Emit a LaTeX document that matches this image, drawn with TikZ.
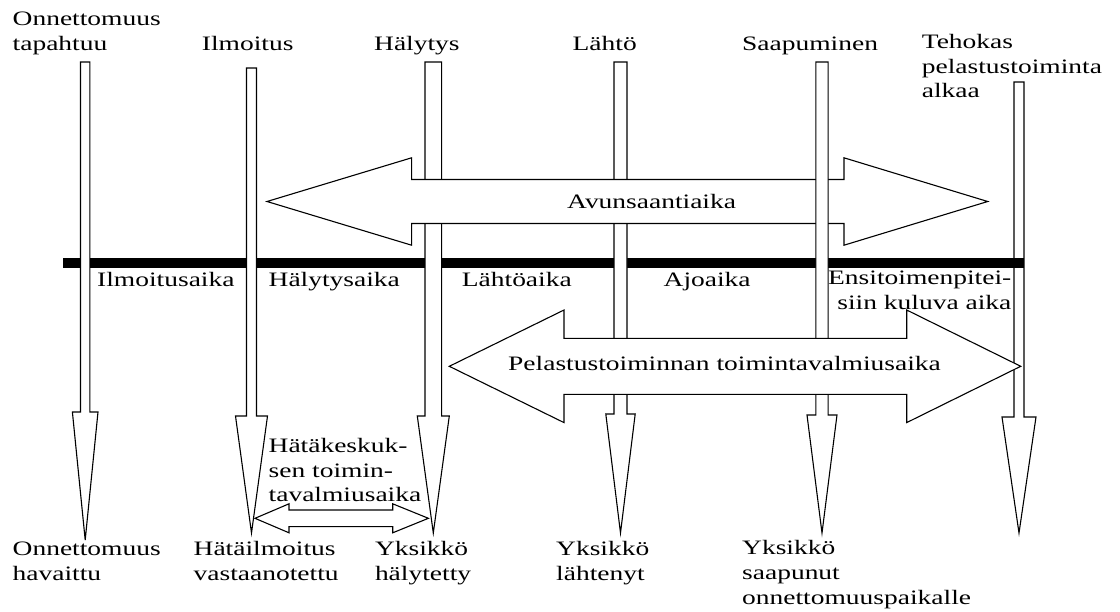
\documentclass[tikz,border=0pt]{standalone}
\usepackage{fontspec}
\setmainfont{Liberation Serif}[FakeStretch=1.34]
\usepackage{tikz}

\newcommand{\timearrow}[6]{\filldraw[blockarrow] (#1-#2,#3) -- (#1+#2,#3) -- (#1+#2,#4) -- (#1+#5,#4) -- (#1,#6) -- (#1-#5,#4) -- (#1-#2,#4) -- cycle;}
\newcommand{\spanarrow}[7]{\filldraw[blockarrow] (#1,#5) -- (#2,#5-#7) -- (#2,#5-#6) -- (#3,#5-#6) -- (#3,#5-#7) -- (#4,#5) -- (#3,#5+#7) -- (#3,#5+#6) -- (#2,#5+#6) -- (#2,#5+#7) -- cycle;}

\begin{document}
\begin{tikzpicture}[x=1pt,y=-1pt,
  blockarrow/.style={draw=black,fill=white,line width=1.1pt,line join=miter},
  lbl/.style={inner sep=0pt,anchor=base west,align=left,font=\fontsize{20.5}{24.6}\selectfont}]
\useasboundingbox[fill=white] (0,0) rectangle (1120,611);
\timearrow{1019}{5}{82}{417}{17}{533}
\fill (62.5,258.3) rectangle (1024,268.3);
\timearrow{85.2}{4.7}{62}{412}{12.8}{540}
\timearrow{251.5}{5}{68}{416}{16}{533}
\timearrow{433.3}{8.3}{62}{416}{16}{533}
\timearrow{620.5}{6.5}{62}{414}{14.7}{533}
\spanarrow{267}{411.6}{844}{987.7}{201.5}{22}{43.7}
\timearrow{822}{6.1}{62}{415}{15}{533}
\spanarrow{449.3}{564}{906.7}{1020.7}{366.3}{28}{56.3}
\spanarrow{255}{289}{392.7}{428.4}{518.3}{8.3}{14.5}
\node[lbl] (onnT) at (12.5,50) {Onnettomuus\\tapahtuu};
\node[lbl] (ilm) at (201.7,50) {Ilmoitus};
\node[lbl] (hal) at (374,50) {Hälytys};
\node[lbl] (lah) at (572.5,50) {Lähtö};
\node[lbl] (saa) at (742,50) {Saapuminen};
\node[lbl] (teh) at (921.7,97.7) {Tehokas\\pelastustoiminta\\alkaa};
\node[lbl] (avun) at (567,208.3) {Avunsaantiaika};
\node[lbl] (ilmaika) at (97,286) {Ilmoitusaika};
\node[lbl] (halaika) at (268.5,286) {Hälytysaika};
\node[lbl] (lahaika) at (461.7,286) {Lähtöaika};
\node[lbl] (ajoaika) at (663.5,286) {Ajoaika};
\node[lbl,anchor=base east,align=right] (ensiaika) at (1011.5,309.5) {Ensitoimenpitei-\\siin kuluva aika};
\node[lbl] (pelast) at (508,370) {Pelastustoiminnan toimintavalmiusaika};
\node[lbl] (hatak) at (268.5,501.7) {Hätäkeskuk-\\sen toimin-\\tavalmiusaika};
\node[lbl] (onnH) at (12.5,580) {Onnettomuus\\havaittu};
\node[lbl] (hatail) at (193.5,580) {Hätäilmoitus\\vastaanotettu};
\node[lbl] (ykshal) at (374.8,580) {Yksikkö\\hälytetty};
\node[lbl] (ykslah) at (556,580) {Yksikkö\\lähtenyt};
\node[lbl] (ykssaa) at (742,604) {Yksikkö\\saapunut\\onnettomuuspaikalle};
\end{tikzpicture}
\end{document}
